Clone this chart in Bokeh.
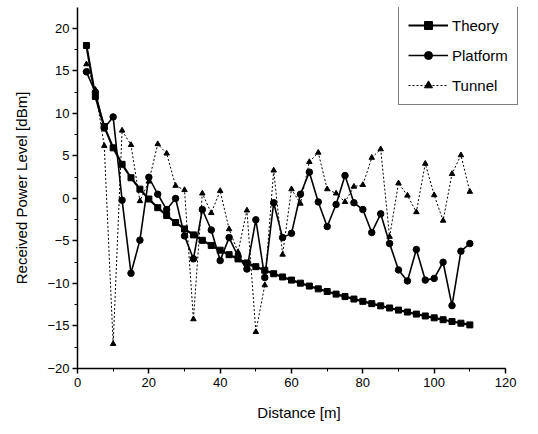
from bokeh.plotting import figure
from bokeh.models import Range1d, SingleIntervalTicker, Legend, LegendItem
from bokeh.embed import file_html
from bokeh.resources import INLINE

distance = [2.5, 5, 7.5, 10, 12.5, 15, 17.5, 20, 22.5, 25, 27.5, 30, 32.5, 35, 37.5, 40,
            42.5, 45, 47.5, 50, 52.5, 55, 57.5, 60, 62.5, 65, 67.5, 70, 72.5, 75, 77.5, 80,
            82.5, 85, 87.5, 90, 92.5, 95, 97.5, 100, 102.5, 105, 107.5, 110]

theory = [18.0, 12.0, 8.46, 5.96, 4.02, 2.44, 1.10, -0.06, -1.08, -2.0, -2.83, -3.58,
          -4.28, -4.92, -5.52, -6.08, -6.61, -7.11, -7.58, -8.02, -8.44, -8.85, -9.23,
          -9.60, -9.96, -10.30, -10.63, -10.94, -11.25, -11.54, -11.83, -12.10, -12.37,
          -12.63, -12.88, -13.13, -13.36, -13.60, -13.82, -14.04, -14.26, -14.47, -14.67,
          -14.87]

platform = [14.9, 12.5, 8.3, 9.6, -0.2, -8.8, -4.9, 2.5, 0.5, -1.3, 0.0, -4.4, -7.1,
            -1.3, -3.7, -7.3, -4.6, -6.8, -8.3, -2.5, -9.3, -0.5, -4.6, -4.1, 0.5, 3.1,
            -0.4, -3.3, -0.7, 2.7, -0.5, -1.3, -4.0, -1.8, -5.3, -8.4, -9.7, -6.0, -9.6,
            -9.4, -7.5, -12.6, -6.2, -5.3]

tunnel = [15.8, 12.8, 6.2, -17.1, 8.0, 6.3, -0.3, 2.0, 6.4, 5.3, 1.5, 1.0, -14.2, 0.6,
          -1.7, 0.9, -3.6, -6.3, -1.4, -15.7, -10.2, 3.3, -6.6, 1.1, -0.6, 4.3, 5.4, 1.1,
          0.6, -0.4, 1.4, 1.6, 4.8, 5.8, -4.5, 1.8, 0.35, -1.6, 4.1, 0.4, -2.6, 2.9, 5.1,
          0.8]

series_names = ["Theory", "Platform", "Tunnel"]
x_label = "Distance [m]"
y_label = "Received Power Level [dBm]"
x_axis_bounds = (0, 120)

FONT = "Liberation Sans"

p = figure(width=530, height=426, output_backend="svg", toolbar_location=None,
           x_range=Range1d(0, 124.2), y_range=Range1d(-20, 22.47),
           min_border_left=77, min_border_right=10, min_border_top=7, min_border_bottom=58)
p.outline_line_color = None
p.xgrid.visible = False
p.ygrid.visible = False

l1 = p.line(distance, theory, line_color="black", line_width=2.2)
m1 = p.scatter(distance, theory, marker="square", size=6, fill_color="black", line_color="black")
l2 = p.line(distance, platform, line_color="black", line_width=1.6)
m2 = p.scatter(distance, platform, marker="circle", size=6.5, fill_color="black", line_color="black")
l3 = p.line(distance, tunnel, line_color="black", line_width=1, line_dash="2 2")
m3 = p.scatter(distance, tunnel, marker="triangle", size=5.5, fill_color="black", line_color="black")

for ax, interval in ((p.xaxis[0], 20), (p.yaxis[0], 5)):
    ax.ticker = SingleIntervalTicker(interval=interval, num_minor_ticks=2)
    ax.axis_line_width = 1.5
    ax.axis_line_color = "black"
    ax.major_tick_line_color = "black"
    ax.minor_tick_line_color = "black"
    ax.major_tick_line_width = 1.5
    ax.major_tick_out = 5
    ax.major_tick_in = 0
    ax.minor_tick_out = 3
    ax.minor_tick_in = 0
    ax.major_label_text_font = FONT
    ax.major_label_text_font_size = "13px"
    ax.major_label_text_color = "black"
    ax.axis_label_text_font = FONT
    ax.axis_label_text_font_size = "15px"
    ax.axis_label_text_font_style = "normal"
    ax.axis_label_text_color = "black"

p.xaxis[0].bounds = x_axis_bounds
p.xaxis[0].axis_label = x_label
p.xaxis[0].major_label_standoff = 4
p.xaxis[0].axis_label_standoff = 14
p.yaxis[0].axis_label = y_label
p.yaxis[0].major_label_standoff = 3
p.yaxis[0].axis_label_standoff = 14

legend = Legend(items=[LegendItem(label=series_names[0], renderers=[l1, m1]),
                       LegendItem(label=series_names[1], renderers=[l2, m2]),
                       LegendItem(label=series_names[2], renderers=[l3, m3])],
                location=(321, 263))
legend.border_line_color = "black"
legend.border_line_width = 1.5
legend.background_fill_color = "white"
legend.background_fill_alpha = 1
legend.label_text_font = FONT
legend.label_text_font_size = "15px"
legend.label_text_color = "black"
legend.glyph_width = 40
legend.glyph_height = 20
legend.label_height = 20
legend.spacing = 10
legend.padding = 9
legend.margin = 0
legend.label_standoff = 4
p.add_layout(legend)

open("out.html", "w").write(file_html(p, INLINE))
